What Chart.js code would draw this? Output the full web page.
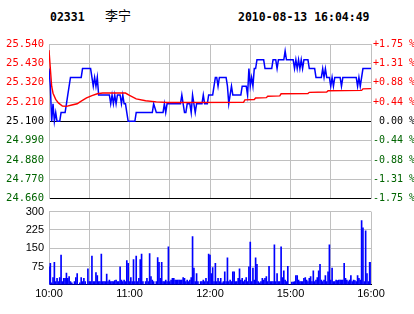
<!DOCTYPE html>
<html>
<head>
<meta charset="utf-8">
<script src="https://cdn.jsdelivr.net/npm/chart.js@4"></script>
<style>
  body { margin: 0; background: #fff; }
  #wrap { position: relative; width: 414px; height: 314px; overflow: hidden; background: #fff; }
  #wrap canvas { position: absolute; left: 0; }
  .hd { position: absolute; white-space: pre; color: #000; }
  .mono { font: bold 11.5px "DejaVu Sans Mono", monospace; line-height: 12px; }
</style>
</head>
<body>
<div id="wrap">
  <div class="hd mono" style="left:50px;top:11px">02331</div>
  <div class="hd" style="left:105px;top:8px;font:13px 'Noto Sans CJK SC';line-height:13px">李宁</div>
  <div class="hd mono" style="left:238px;top:11px">2010-08-13 16:04:49</div>
  <canvas id="priceChart" width="414" height="210" style="top:0"></canvas>
  <canvas id="volChart" width="414" height="114" style="top:200px"></canvas>
</div>
<script>
// previous close, the zero line of both price axes
var prevClose = 25.10;

// minutes from 10:00 (12:30 and 14:30 share the 150 mark)
var gridMinutes = [0, 30, 60, 90, 120, 150, 180, 210, 240];
var timeTicks = [0, 60, 120, 180, 240];
var timeLabels = ["10:00", "11:00", "12:00", "15:00", "16:00"];

var priceTicks = [25.54, 25.43, 25.32, 25.21, 25.10, 24.99, 24.88, 24.77, 24.66];
var pctLabels = ["+1.75 %", "+1.31 %", "+0.88 %", "+0.44 %", " 0.00 %", "-0.44 %", "-0.88 %", "-1.31 %", "-1.75 %"];
var volTicks = [0, 75, 150, 225, 300];

// [minute, price]
var priceTrace = [
  [0,25.40],[1,25.30],[2,25.10],[3,25.20],[4,25.10],[5,25.15],[6,25.10],[8,25.10],[9,25.15],[12,25.15],
  [13,25.20],[14,25.25],[15,25.30],[16,25.35],[24,25.35],[25,25.40],[31,25.40],[32,25.35],[33,25.30],[34,25.35],
  [35,25.30],[36,25.35],[37,25.25],[45,25.25],[46,25.20],[47,25.25],[48,25.20],[49,25.25],[50,25.20],[51,25.25],
  [53,25.25],[54,25.20],[55,25.25],[56,25.20],[57,25.20],[58,25.15],[59,25.10],[64,25.10],[65,25.15],[77,25.15],
  [78,25.20],[80,25.15],[85,25.15],[86,25.20],[87,25.15],[88,25.20],[98,25.20],[99,25.25],[100,25.20],[101,25.15],
  [102,25.15],[103,25.20],[105,25.20],[106,25.15],[107,25.25],[108,25.20],[109,25.15],[110,25.20],[114,25.20],[115,25.25],
  [116,25.20],[118,25.20],[119,25.25],[122,25.25],[123,25.30],[124,25.35],[125,25.35],[126,25.30],[127,25.35],[132,25.35],
  [133,25.30],[134,25.20],[135,25.25],[136,25.30],[137,25.25],[143,25.25],[144,25.30],[147,25.30],[148,25.25],[149,25.40],
  [150,25.30],[151,25.35],[152,25.30],[153,25.40],[154,25.40],[155,25.45],[160,25.45],[161,25.40],[166,25.40],[167,25.45],
  [169,25.45],[170,25.40],[171,25.45],[175,25.45],[176,25.50],[177,25.45],[182,25.45],[183,25.40],[184,25.45],[185,25.40],
  [186,25.45],[187,25.40],[188,25.45],[189,25.40],[190,25.45],[193,25.45],[194,25.40],[198,25.40],[199,25.35],[203,25.35],
  [204,25.40],[205,25.35],[206,25.40],[207,25.35],[209,25.35],[210,25.30],[211,25.35],[212,25.30],[213,25.35],[217,25.35],
  [218,25.30],[219,25.35],[229,25.35],[230,25.30],[231,25.35],[232,25.30],[233,25.35],[234,25.40],[240,25.40]
];

// [minute, average price]
var avgTrace = [
  [0,25.505],[1,25.40],[2,25.30],[3,25.26],[5,25.225],[7,25.205],[10,25.187],[13,25.185],[17,25.193],[21,25.20],
  [24,25.215],[28,25.233],[32,25.246],[36,25.257],[40,25.261],[57,25.261],[60,25.248],[65,25.228],[72,25.217],[80,25.211],
  [88,25.207],[145,25.208],[146,25.222],[153,25.224],[154,25.233],[162,25.235],[163,25.243],[172,25.245],[173,25.257],[193,25.258],
  [194,25.265],[207,25.267],[208,25.274],[233,25.276],[234,25.285],[240,25.286]
];

// volume per minute, 10:00 .. 16:00
var volumes = [
  74, 88, 8, 30, 92, 13, 27, 13, 30, 122,
  13, 27, 27, 48, 27, 34, 13, 8, 0, 13,
  30, 46, 0, 8, 30, 13, 27, 13, 0, 65,
  13, 13, 118, 13, 13, 50, 38, 13, 13, 126,
  13, 13, 13, 44, 13, 19, 13, 13, 13, 17,
  19, 13, 13, 74, 19, 13, 19, 13, 99, 88,
  13, 30, 13, 103, 13, 118, 13, 27, 103, 126,
  13, 0, 13, 27, 13, 128, 34, 19, 13, 0,
  13, 112, 92, 27, 92, 13, 13, 19, 13, 156,
  13, 19, 27, 27, 19, 19, 19, 19, 19, 19,
  30, 27, 13, 19, 13, 19, 30, 198, 69, 13,
  46, 13, 0, 13, 13, 19, 13, 27, 13, 126,
  122, 46, 71, 13, 88, 13, 27, 13, 27, 8,
  13, 53, 13, 111, 13, 19, 13, 53, 53, 13,
  13, 27, 65, 19, 27, 13, 19, 30, 13, 74,
  175, 13, 69, 19, 111, 84, 13, 8, 13, 27,
  19, 27, 34, 13, 76, 13, 13, 13, 164, 13,
  46, 13, 13, 156, 30, 57, 19, 13, 76, 0,
  0, 11, 11, 13, 38, 38, 19, 13, 13, 13,
  27, 30, 19, 13, 27, 34, 13, 57, 13, 19,
  30, 57, 84, 19, 13, 19, 38, 13, 53, 164,
  19, 69, 13, 13, 19, 17, 19, 19, 19, 19,
  88, 27, 19, 13, 19, 38, 13, 19, 17, 13,
  38, 27, 19, 263, 233, 13, 221, 46, 13, 92, 92
];

var gridGray = "#c0c0c0";
var upRed = "#ff0000";
var downGreen = "#006400";
var leftFont = { family: "DejaVu Sans Mono", size: 10.5 };
var rightFont = { family: "DejaVu Sans Mono", size: 10 };
var sansFont = { family: "Liberation Sans", size: 11 };

function setTicks(list) {
  return function(scale) {
    scale.ticks = list.map(function(v) { return { value: v }; });
  };
}

function priceColor(v) {
  if (v > prevClose) return upRed;
  if (v < prevClose) return downGreen;
  return "#000";
}

new Chart(document.getElementById("priceChart"), {
  type: "line",
  data: {
    datasets: [
      {
        data: avgTrace.map(function(p) { return { x: p[0], y: p[1] }; }),
        borderColor: "#ff0000",
        borderWidth: 1.4,
        pointRadius: 0,
        tension: 0
      },
      {
        data: priceTrace.map(function(p) { return { x: p[0], y: p[1] }; }),
        borderColor: "#0000ff",
        borderWidth: 1.5,
        pointRadius: 0,
        tension: 0
      }
    ]
  },
  options: {
    responsive: false,
    animation: false,
    layout: { padding: { top: 44, bottom: 7, left: 0, right: 0 } },
    plugins: { legend: { display: false }, tooltip: { enabled: false } },
    scales: {
      x: {
        type: "linear", min: 0, max: 240,
        border: { display: true, color: "#000", width: 1 },
        grid: { color: gridGray, drawTicks: false },
        ticks: { display: false },
        afterBuildTicks: setTicks(gridMinutes),
        afterFit: function(s) { s.height = 0; }
      },
      y: {
        position: "left", min: 24.66, max: 25.54,
        border: { display: true, color: gridGray, width: 1 },
        grid: {
          drawTicks: false,
          color: function(c) {
            return (c.tick.value === prevClose || c.tick.value === 24.66) ? "#000" : gridGray;
          }
        },
        ticks: {
          padding: 5,
          font: leftFont,
          color: function(c) { return priceColor(c.tick.value); },
          callback: function(v) { return v.toFixed(3); }
        },
        afterBuildTicks: setTicks(priceTicks),
        afterFit: function(s) { s.width = 49; }
      },
      yr: {
        display: true,
        position: "right", min: 24.66, max: 25.54,
        border: { display: true, color: gridGray, width: 1 },
        grid: { drawOnChartArea: false, drawTicks: false },
        ticks: {
          padding: 2,
          font: rightFont,
          color: function(c) { return priceColor(c.tick.value); },
          callback: function(v, i) { return pctLabels[i]; }
        },
        afterBuildTicks: setTicks(priceTicks),
        afterFit: function(s) { s.width = 43; }
      }
    }
  }
});

new Chart(document.getElementById("volChart"), {
  type: "bar",
  data: {
    datasets: [{
      data: volumes.map(function(v, i) { return { x: i, y: v }; }),
      backgroundColor: "#0000ff",
      barThickness: 1
    }]
  },
  options: {
    responsive: false,
    animation: false,
    layout: { padding: { top: 9, bottom: 10, left: 0, right: 43 } },
    plugins: { legend: { display: false }, tooltip: { enabled: false } },
    scales: {
      x: {
        type: "linear", min: 0, max: 240, offset: false,
        border: { display: true, color: "#000", width: 1 },
        grid: { color: gridGray, drawTicks: false, offset: false },
        ticks: {
          padding: 3, font: sansFont, color: "#000",
          maxRotation: 0, autoSkip: false,
          callback: function(v) {
            var k = timeTicks.indexOf(v);
            return k >= 0 ? timeLabels[k] : "";
          }
        },
        afterBuildTicks: setTicks(gridMinutes)
      },
      y: {
        min: 0, max: 300,
        border: { display: true, color: gridGray, width: 1 },
        grid: {
          drawTicks: false,
          color: function(c) { return c.tick.value === 0 ? "#000" : gridGray; }
        },
        ticks: {
          padding: 5, font: sansFont, color: "#000",
          callback: function(v) { return v === 0 ? "" : String(v); }
        },
        afterBuildTicks: setTicks(volTicks),
        afterFit: function(s) { s.width = 49; }
      }
    }
  }
});
</script>
</body>
</html>
